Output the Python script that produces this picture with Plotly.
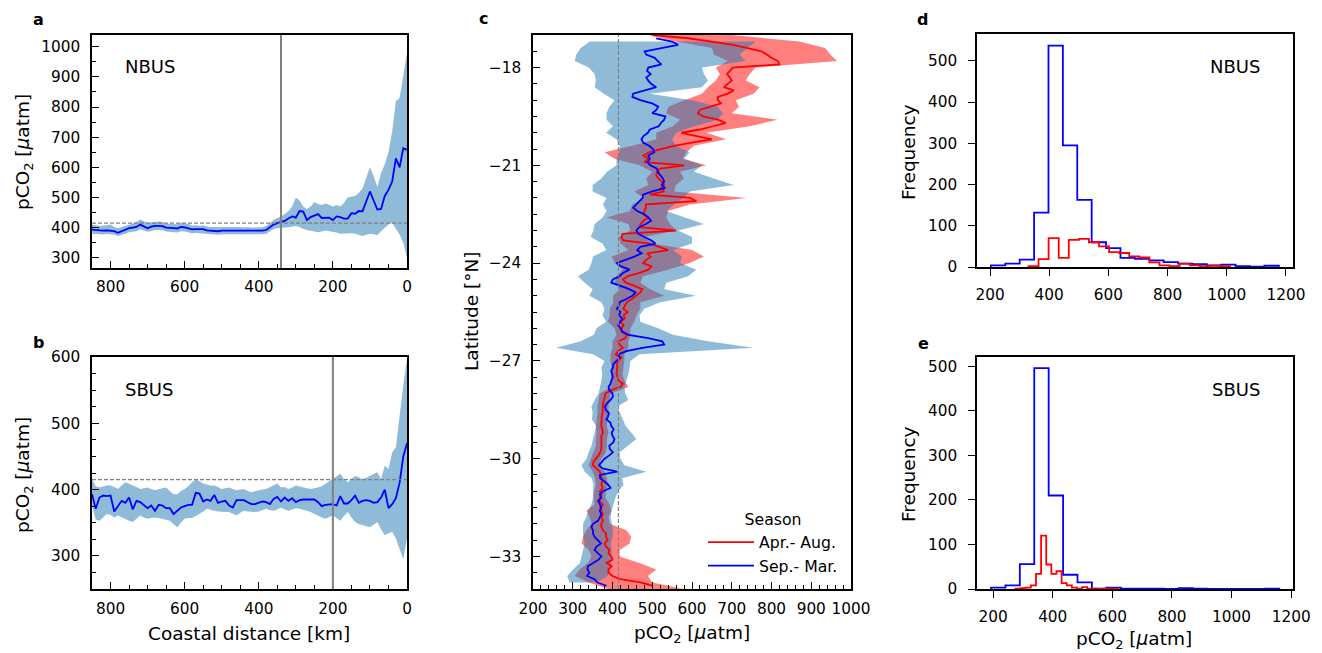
import numpy as np
import plotly.graph_objects as go

W, H = 1322, 653          # window size
OFF = 8                    # page body margin of the browser
FW, FH = W - OFF, H - OFF  # figure size
FONT = "DejaVu Sans"

# ---------------- Panel a / b : coastal distance profiles ----------------
DIST_KM = list(range(850, -1, -10))

A_MEAN = [393, 392, 390, 390, 391, 390, 388, 383, 388, 393,
          398, 400, 402, 410, 403, 398, 403, 406, 406, 405,
          400, 400, 398, 397, 402, 401, 398, 394, 395, 394,
          395, 391, 390, 389, 388, 390, 390, 390, 389, 390,
          390, 388, 390, 388, 389, 389, 390, 392, 402, 410,
          415, 418, 422, 430, 437, 433, 455, 453, 425, 435,
          440, 445, 432, 432, 433, 425, 437, 435, 430, 430,
          448, 446, 455, 454, 490, 520, 490, 460, 462, 505,
          525, 553, 630, 600, 663, 658]
A_UPPER = [410, 408, 405, 406, 408, 410, 402, 398, 403, 408,
           412, 414, 418, 427, 420, 415, 418, 420, 420, 419,
           414, 413, 411, 411, 415, 414, 412, 407, 408, 406,
           407, 404, 402, 402, 400, 402, 402, 402, 401, 402,
           402, 400, 402, 400, 401, 400, 401, 405, 415, 425,
           432, 437, 445, 455, 470, 500, 490, 470, 462, 470,
           485, 478, 475, 480, 476, 470, 475, 470, 482, 500,
           502, 505, 515, 530, 565, 600, 570, 535, 580, 610,
           650, 720, 820, 830, 900, 980]
A_LOWER = [380, 379, 378, 377, 379, 378, 376, 372, 375, 380,
           385, 386, 388, 394, 389, 386, 389, 392, 392, 391,
           387, 387, 385, 384, 388, 387, 385, 381, 382, 381,
           382, 379, 378, 377, 376, 378, 378, 378, 377, 378,
           378, 376, 378, 376, 377, 377, 378, 380, 389, 395,
           398, 400, 400, 401, 402, 405, 402, 395, 392, 390,
           388, 385, 387, 390, 388, 387, 384, 380, 381, 382,
           381, 380, 376, 372, 376, 380, 378, 375, 388, 400,
           410, 415, 395, 377, 350, 300]

B_MEAN = [393, 371, 388, 391, 390, 391, 367, 375, 383, 380,
          388, 370, 383, 381, 377, 372, 376, 368, 377, 376,
          372, 372, 363, 368, 373, 375, 377, 377, 395, 394,
          382, 385, 383, 392, 380, 382, 383, 376, 373, 384,
          384, 384, 381, 378, 378, 380, 382, 381, 378, 386,
          389, 382, 388, 383, 387, 381, 384, 385, 385, 385,
          385, 381, 375, 377, 378, 378, 376, 390, 379, 379,
          384, 391, 380, 383, 384, 383, 380, 381, 388, 400,
          372, 378, 387, 410, 450, 470]
B_UPPER = [416, 405, 403, 405, 406, 406, 404, 401, 406, 411,
           409, 406, 404, 401, 402, 403, 401, 399, 401, 402,
           403, 398, 393, 393, 398, 401, 405, 411, 415, 413,
           409, 407, 406, 406, 404, 401, 402, 403, 401, 399,
           400, 401, 398, 396, 397, 399, 400, 401, 404, 406,
           409, 403, 404, 401, 403, 406, 404, 403, 402, 401,
           402, 403, 405, 409, 412, 416, 420, 424, 416, 411,
           416, 421, 418, 416, 418, 421, 423, 426, 416, 436,
           431, 456, 464, 507, 557, 597]
B_LOWER = [376, 355, 353, 358, 363, 362, 358, 361, 358, 356,
           353, 351, 356, 361, 358, 356, 357, 358, 357, 356,
           355, 353, 348, 343, 350, 356, 357, 357, 360, 363,
           367, 371, 369, 368, 367, 366, 366, 366, 363, 361,
           365, 368, 367, 366, 366, 367, 369, 371, 369, 368,
           370, 373, 370, 368, 370, 372, 371, 370, 368, 366,
           363, 361, 358, 356, 358, 361, 357, 353, 360, 366,
           358, 351, 348, 346, 344, 343, 347, 351, 340, 331,
           334, 336, 326, 311, 295, 326]

A_CUTOFF_KM = 340
B_CUTOFF_KM = 200
ATM_PCO2 = 415

# ---------------- Panel c : latitude profiles ----------------
RED_LAT = list(np.round(np.arange(-17.0, -33.95, -0.1), 1))
RED_MEAN = [500, 590, 650, 703, 740, 775, 788, 800, 816, 820,
            703, 695, 688, 695, 700, 690, 680, 705, 690, 665,
            665, 673, 645, 620, 615, 628, 665, 685, 653, 619,
            573, 611, 650, 600, 555, 522, 492, 478, 490, 480,
            580, 520, 512, 510, 515, 525, 530, 522, 530, 494,
            595, 611, 484, 484, 480, 477, 490, 478, 470, 470,
            560, 425, 423, 427, 494, 520, 540, 487, 496, 485,
            477, 498, 490, 468, 439, 426, 434, 455, 475, 470,
            460, 449, 436, 431, 427, 438, 428, 431, 420, 428,
            423, 422, 435, 432, 414, 418, 426, 414, 408, 422,
            414, 411, 412, 411, 410, 413, 415, 426, 420, 396,
            382, 381, 379, 376, 376, 376, 375, 373, 372, 372,
            372, 375, 376, 372, 372, 372, 372, 372, 369, 365,
            358, 352, 351, 360, 368, 371, 372, 374, 372, 376,
            368, 372, 368, 366, 376, 369, 372, 376, 372, 376,
            372, 372, 376, 384, 384, 388, 380, 384, 392, 390,
            397, 400, 385, 398, 390, 390, 400, 420, 470, 500]

BLUE_LAT = list(np.round(np.arange(-17.1, -33.95, -0.1), 1))
BLUE_MEAN = [510, 550, 565, 523, 481, 485, 506, 514, 523,
             490, 487, 496, 485, 490, 497, 510, 480, 452, 450,
             470, 500, 515, 510, 500, 533, 530, 522, 516, 494,
             489, 478, 473, 477, 492, 502, 505, 490, 494, 488,
             495, 512, 514, 520, 527, 530, 524, 532, 500, 477,
             476, 468, 460, 452, 462, 480, 490, 497, 484, 467,
             460, 465, 480, 497, 508, 470, 462, 473, 455, 430,
             410, 422, 443, 426, 418, 401, 397, 420, 442, 458,
             450, 435, 418, 416, 411, 420, 416, 425, 420, 414,
             420, 425, 440, 490, 525, 530, 475, 435, 415, 418,
             410, 402, 401, 397, 399, 401, 397, 395, 390, 392,
             400, 401, 395, 386, 381, 383, 391, 389, 385, 395,
             397, 403, 398, 400, 405, 402, 392, 393, 401, 392,
             380, 372, 366, 375, 412, 368, 369, 380, 389, 395,
             376, 368, 372, 364, 368, 372, 368, 372, 368, 364,
             351, 347, 351, 351, 355, 363, 371, 360, 355, 363,
             372, 365, 350, 338, 337, 342, 336, 355, 362, 385]

BLUE_BAND_LAT = list(np.round(np.arange(-17.2, -33.85, -0.2), 1))
BLUE_LO = [343, 320, 309, 305, 340, 355, 358, 355, 378, 405,
           392, 385, 385, 401, 384, 410, 418, 418, 410, 410,
           386, 372, 350, 350, 385, 376, 385, 375, 355, 352,
           345, 375, 384, 351, 347, 340, 313, 330, 350, 342,
           372, 380, 375, 384, 360, 353, 320, 258, 351, 380,
           372, 374, 372, 368, 365, 355, 347, 350, 348, 359,
           355, 350, 347, 340, 335, 322, 330, 348, 352, 351,
           351, 347, 339, 334, 326, 326, 326, 330, 326, 322,
           318, 301, 286, 292]
BLUE_HI = [760, 740, 720, 735, 625, 630, 640, 625, 494, 600,
           665, 678, 665, 605, 561, 550, 560, 594, 580, 625,
           605, 655, 705, 595, 578, 555, 535, 580, 630, 565,
           600, 600, 552, 575, 570, 611, 590, 535, 530, 610,
           520, 480, 468, 470, 515, 552, 640, 755, 468, 445,
           443, 440, 436, 430, 432, 440, 412, 418, 426, 433,
           447, 460, 440, 418, 420, 430, 485, 424, 428, 415,
           407, 402, 398, 395, 398, 402, 400, 396, 398, 398,
           397, 392, 388, 360]

RED_BAND_LAT = list(np.round(np.arange(-17.0, -34.05, -0.2), 1))
RED_LO = [490, 560, 650, 655, 690, 660, 670, 660, 640, 625,
          580, 540, 535, 570, 552, 510, 510, 450, 380, 405,
          468, 500, 485, 490, 455, 478, 450, 443, 385, 440,
          445, 415, 420, 440, 398, 405, 425, 410, 406, 418,
          401, 402, 393, 393, 388, 405, 410, 400, 400, 395,
          395, 398, 396, 398, 395, 368, 365, 362, 362, 360,
          358, 360, 358, 358, 352, 345, 340, 350, 356, 358,
          354, 352, 355, 334, 343, 347, 334, 326, 322, 340,
          347, 338, 317, 305, 340, 390]
RED_HI = [700, 870, 935, 948, 965, 760, 745, 735, 770, 755,
          710, 718, 700, 815, 745, 636, 686, 605, 586, 577,
          636, 570, 580, 560, 555, 737, 594, 540, 535, 545,
          561, 480, 500, 600, 630, 594, 540, 477, 470, 495,
          531, 470, 470, 460, 455, 445, 445, 440, 440, 430,
          430, 428, 425, 430, 440, 396, 393, 390, 390, 386,
          386, 390, 386, 386, 384, 372, 365, 380, 386, 388,
          384, 382, 393, 397, 390, 393, 435, 447, 443, 418,
          418, 468, 510, 489, 500, 580]

SEASONS = ["Apr.- Aug.", "Sep.- Mar."]

# ---------------- Panels d / e : histograms (20 bins each) ----------------
D_BLUE_RANGE = (203, 1176)
D_BLUE_COUNTS = [4, 8, 18, 132, 537, 295, 163, 60, 46, 22, 20, 16, 12, 8, 7, 4, 6, 2, 1, 3]
D_RED_RANGE = (330, 1011)
D_RED_COUNTS = [2, 19, 70, 22, 66, 68, 60, 50, 36, 34, 26, 23, 11, 4, 2, 8, 4, 2, 3, 2]
E_BLUE_RANGE = (193, 1160)
E_BLUE_COUNTS = [3, 8, 56, 496, 210, 32, 15, 1, 3, 1, 1, 1, 0, 2, 1, 0, 0, 0, 0, 1]
E_RED_RANGE = (275, 619)
E_RED_COUNTS = [1, 2, 3, 8, 34, 120, 55, 34, 40, 13, 8, 3, 1, 4, 1, 1, 0, 1, 1, 1]

BLUE = "#0000ff"
RED = "#ff0000"
BAND_BLUE = "rgba(31,119,180,0.5)"
BAND_RED = "rgba(255,0,0,0.5)"
GRAY = "#808080"

TICK_SIZE = 15.3
TITLE_SIZE = 18.5
LEGEND_SIZE = 15.7

fig = go.Figure()


def band_x(dist, lo, hi):
    return list(dist) + list(dist)[::-1], list(lo) + list(hi)[::-1]


# panel a
bx, by = band_x(DIST_KM, A_LOWER, A_UPPER)
fig.add_trace(go.Scatter(x=bx, y=by, fill="toself", fillcolor=BAND_BLUE, mode="lines",
                         line=dict(width=0), showlegend=False, hoverinfo="skip", xaxis="x", yaxis="y"))
fig.add_trace(go.Scatter(x=DIST_KM, y=A_MEAN, mode="lines", line=dict(color=BLUE, width=1.8),
                         showlegend=False, xaxis="x", yaxis="y"))
# panel b
bx, by = band_x(DIST_KM, B_LOWER, B_UPPER)
fig.add_trace(go.Scatter(x=bx, y=by, fill="toself", fillcolor=BAND_BLUE, mode="lines",
                         line=dict(width=0), showlegend=False, hoverinfo="skip", xaxis="x2", yaxis="y2"))
fig.add_trace(go.Scatter(x=DIST_KM, y=B_MEAN, mode="lines", line=dict(color=BLUE, width=1.8),
                         showlegend=False, xaxis="x2", yaxis="y2"))

# panel c
fig.add_trace(go.Scatter(x=list(RED_LO) + list(RED_HI)[::-1], y=RED_BAND_LAT + RED_BAND_LAT[::-1],
                         fill="toself", fillcolor=BAND_RED, mode="lines", line=dict(width=0),
                         showlegend=False, hoverinfo="skip", xaxis="x3", yaxis="y3"))
fig.add_trace(go.Scatter(x=list(BLUE_LO) + list(BLUE_HI)[::-1], y=BLUE_BAND_LAT + BLUE_BAND_LAT[::-1],
                         fill="toself", fillcolor=BAND_BLUE, mode="lines", line=dict(width=0),
                         showlegend=False, hoverinfo="skip", xaxis="x3", yaxis="y3"))
fig.add_trace(go.Scatter(x=RED_MEAN, y=RED_LAT, mode="lines", line=dict(color=RED, width=1.8),
                         name=SEASONS[0], showlegend=True, xaxis="x3", yaxis="y3"))
fig.add_trace(go.Scatter(x=BLUE_MEAN, y=BLUE_LAT, mode="lines", line=dict(color=BLUE, width=1.8),
                         name=SEASONS[1], showlegend=True, xaxis="x3", yaxis="y3"))


def step_hist(rng, counts):
    edges = np.linspace(rng[0], rng[1], len(counts) + 1)
    xs = [edges[0]] + list(edges[:-1]) + [edges[-1], edges[-1]]
    ys = [0] + list(counts) + [counts[-1], 0]
    return xs, ys


for (rng, cnt, col, xa, ya) in [
    (D_BLUE_RANGE, D_BLUE_COUNTS, BLUE, "x4", "y4"),
    (D_RED_RANGE, D_RED_COUNTS, RED, "x4", "y4"),
    (E_BLUE_RANGE, E_BLUE_COUNTS, BLUE, "x5", "y5"),
    (E_RED_RANGE, E_RED_COUNTS, RED, "x5", "y5"),
]:
    xs, ys = step_hist(rng, cnt)
    fig.add_trace(go.Scatter(x=xs, y=ys, mode="lines", line=dict(color=col, width=1.8, shape="hv"),
                             showlegend=False, xaxis=xa, yaxis=ya))

tickfont = dict(family=FONT, size=TICK_SIZE, color="black")
common = dict(showline=True, linecolor="black", linewidth=1.6, mirror=True, showgrid=False,
              zeroline=False, tickcolor="black", tickwidth=1.3, tickfont=tickfont, automargin=False)


def minor(d, ticks="inside"):
    return dict(dtick=d, ticklen=4, tickwidth=1, tickcolor="black", ticks=ticks, showgrid=False)


def xd(x0, x1):
    return [(x0 - OFF) / FW, (x1 - OFF) / FW]


def yd(y0, y1):
    return [1 - (y1 - OFF) / FH, 1 - (y0 - OFF) / FH]


fig.update_layout(
    width=FW, height=FH, paper_bgcolor="white", plot_bgcolor="white",
    margin=dict(l=0, r=0, t=0, b=0, autoexpand=False),
    font=dict(family=FONT, size=15, color="black"),
    xaxis=dict(domain=xd(92, 407), range=[850, 0], anchor="y", tick0=0, dtick=200, ticks="inside",
               ticklen=7, minor=minor(50), ticklabelstandoff=4, **common),
    yaxis=dict(domain=yd(35, 268), range=[266, 1039], anchor="x", tick0=0, dtick=100, ticks="inside",
               ticklen=7, minor=minor(50), ticklabelstandoff=7, **common),
    xaxis2=dict(domain=xd(92, 407), range=[850, 0], anchor="y2", tick0=0, dtick=200, ticks="inside",
                ticklen=7, minor=minor(50), ticklabelstandoff=5, **common),
    yaxis2=dict(domain=yd(357, 589), range=[250, 600], anchor="x2", tick0=0, dtick=100, ticks="inside",
                ticklen=7, minor=minor(25), ticklabelstandoff=7, **common),
    xaxis3=dict(domain=xd(533, 851), range=[200, 1000], anchor="y3", tick0=0, dtick=100, ticks="inside",
                ticklen=7, minor=minor(20), ticklabelstandoff=5, **common),
    yaxis3=dict(domain=yd(35, 589), range=[-34, -17], anchor="x3", tick0=-18, dtick=3, ticks="inside",
                ticklen=7, minor=minor(0.5), ticklabelstandoff=7, **common),
    xaxis4=dict(domain=xd(977, 1293), range=[156, 1224], anchor="y4", tick0=0, dtick=200, ticks="outside",
                ticklen=7, ticklabelstandoff=6, **common),
    yaxis4=dict(domain=yd(34, 267), range=[0, 565], anchor="x4", tick0=0, dtick=100, ticks="outside",
                ticklen=7, ticklabelstandoff=8, **common),
    xaxis5=dict(domain=xd(977, 1293), range=[146, 1206], anchor="y5", tick0=0, dtick=200, ticks="outside",
                ticklen=7, ticklabelstandoff=6, **common),
    yaxis5=dict(domain=yd(357, 589), range=[0, 521], anchor="x5", tick0=0, dtick=100, ticks="outside",
                ticklen=7, ticklabelstandoff=8, **common),
    legend=dict(x=(703 - OFF) / FW, y=1 - (505 - OFF) / FH, xanchor="left", yanchor="top",
                bgcolor="rgba(0,0,0,0)", itemwidth=46,
                font=dict(family=FONT, size=LEGEND_SIZE, color="black"),
                title=dict(text="Season", side="top center", font=dict(family=FONT, size=LEGEND_SIZE)),
                tracegroupgap=0),
)

shapes = [
    dict(type="line", xref="x", yref="y domain", x0=A_CUTOFF_KM, x1=A_CUTOFF_KM, y0=0, y1=1,
         line=dict(color=GRAY, width=2)),
    dict(type="line", xref="x domain", yref="y", x0=0, x1=1, y0=ATM_PCO2, y1=ATM_PCO2,
         line=dict(color=GRAY, width=1.2, dash="4px,2px")),
    dict(type="line", xref="x2", yref="y2 domain", x0=B_CUTOFF_KM, x1=B_CUTOFF_KM, y0=0, y1=1,
         line=dict(color=GRAY, width=2)),
    dict(type="line", xref="x2 domain", yref="y2", x0=0, x1=1, y0=ATM_PCO2, y1=ATM_PCO2,
         line=dict(color=GRAY, width=1.2, dash="4px,2px")),
    dict(type="line", xref="x3", yref="y3 domain", x0=ATM_PCO2, x1=ATM_PCO2, y0=0, y1=1,
         line=dict(color=GRAY, width=1.2, dash="4px,2px")),
]
fig.update_layout(shapes=shapes)


def ann(text, px, py, size=16, bold=False, angle=0):
    return dict(text=("<b>%s</b>" % text) if bold else text, x=(px - OFF) / FW, y=1 - (py - OFF) / FH,
                xref="paper", yref="paper", showarrow=False, textangle=angle,
                xanchor="center", yanchor="middle",
                font=dict(family=FONT, size=size, color="black"))


PCO2_LABEL = "pCO<sub>2</sub> [<i>μ</i>atm]"
annotations = [
    ann("a", 38, 20, 16, True), ann("b", 38, 342, 16, True), ann("c", 483, 19, 16, True),
    ann("d", 922, 20, 16, True), ann("e", 923, 343, 16, True),
    ann("NBUS", 150, 67, 18), ann("SBUS", 149, 389, 18),
    ann("NBUS", 1235, 67, 18), ann("SBUS", 1236, 389, 18),
    ann(PCO2_LABEL, 24, 152, TITLE_SIZE, angle=-90),
    ann(PCO2_LABEL, 24, 475, TITLE_SIZE, angle=-90),
    ann("Coastal distance [km]", 249, 633, TITLE_SIZE),
    ann("Latitude [°N]", 471, 311, TITLE_SIZE, angle=-90),
    ann(PCO2_LABEL, 692, 634, TITLE_SIZE),
    ann("Frequency", 908, 152, TITLE_SIZE, angle=-90),
    ann("Frequency", 908, 474, TITLE_SIZE, angle=-90),
    ann(PCO2_LABEL, 1134, 640, TITLE_SIZE),
]
fig.update_layout(annotations=annotations)

fig.write_html("out.html")
